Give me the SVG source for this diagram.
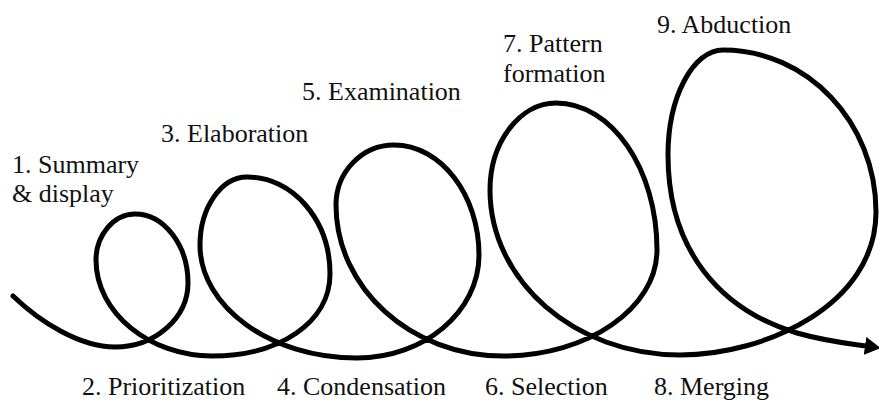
<svg xmlns="http://www.w3.org/2000/svg" width="879" height="402" viewBox="0 0 879 402">
  <style>
    text { font-family: 'Liberation Serif', 'DejaVu Serif', serif; font-size: 26px; fill: #111; }
    .spiral { fill: none; stroke: #000; stroke-width: 5; stroke-linecap: round; stroke-linejoin: round; }
  </style>
  <defs>
    <marker id="arrow" markerUnits="userSpaceOnUse" viewBox="0 0 16 18" refX="1" refY="9" markerWidth="16" markerHeight="18" orient="auto">
      <path d="M0,0 L16,9 L0,18 Z" fill="#000"/>
    </marker>
  </defs>
  <rect width="879" height="402" fill="#fff"/>
  <g id="connectors">
    <path class="spiral" marker-end="url(#arrow)" d="M13,296
      C 40,322 80,347 115,347
      C 155,347 188,318 188,283
      C 188,245 164,214 135,214
      C 114,214 96,235 96,260
      C 96,313 150,356 212,356
      C 280,356 330,322 330,274
      C 330,220 293,177 247,177
      C 221,177 200,208 200,245
      C 200,307 271,358 357,358
      C 424,358 479,312 479,255
      C 479,195 441,145 394,145
      C 362,145 336,172 336,205
      C 336,288 411,356 503,356
      C 588,356 657,308 657,250
      C 657,169 612,103 556,103
      C 520,103 490,142 490,190
      C 490,281 575,355 680,355
      C 765,355 876,305 876,212
      C 876,122 807,50 723,50
      C 693,50 668,97 668,155
      C 668,250 720,310 797,333
      C 825,341 845,343 866,346"/>
  </g>
  <g id="labels" font-family="'Liberation Serif', 'DejaVu Serif', serif" font-size="26">
    <g id="n1"><text x="12" y="173">1. Summary</text><text x="12" y="202">&amp; display</text></g>
    <g id="n2"><text x="82" y="395">2. Prioritization</text></g>
    <g id="n3"><text x="161" y="142">3. Elaboration</text></g>
    <g id="n4"><text x="277" y="395">4. Condensation</text></g>
    <g id="n5"><text x="302" y="100">5. Examination</text></g>
    <g id="n6"><text x="485" y="395">6. Selection</text></g>
    <g id="n7"><text x="503" y="52">7. Pattern</text><text x="503" y="82">formation</text></g>
    <g id="n8"><text x="654" y="395">8. Merging</text></g>
    <g id="n9"><text x="657" y="33">9. Abduction</text></g>
  </g>
</svg>
